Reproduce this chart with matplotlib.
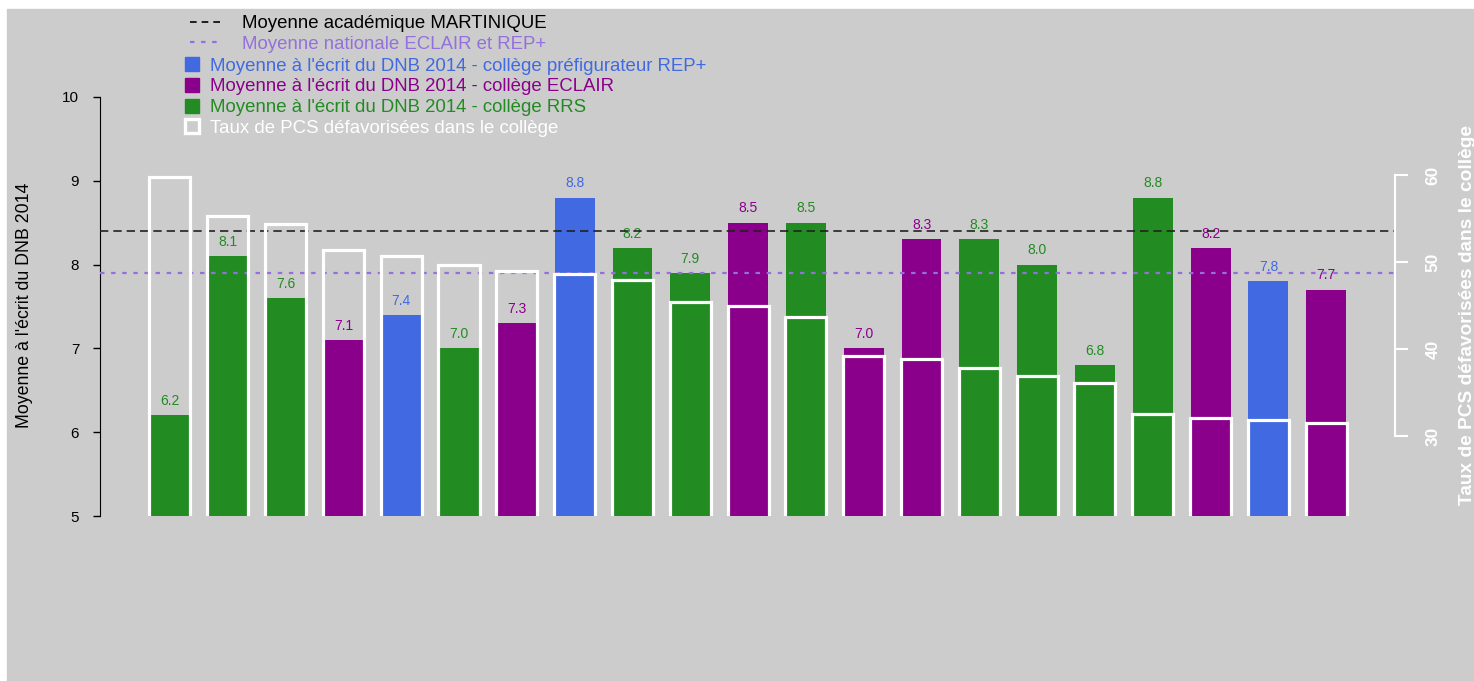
import matplotlib.pyplot as plt
from matplotlib.lines import Line2D
from matplotlib.patches import Rectangle

plt.rcParams['font.family'] = ['Liberation Sans', 'DejaVu Sans']

# Moyenne a l'ecrit du DNB 2014 par college (ordre du graphique)
moyennes = [6.2, 8.1, 7.6, 7.1, 7.4, 7.0, 7.3, 8.8, 8.2, 7.9, 8.5,
            8.5, 7.0, 8.3, 8.3, 8.0, 6.8, 8.8, 8.2, 7.8, 7.7]
types = ['RRS', 'RRS', 'RRS', 'ECLAIR', 'REP+', 'RRS', 'ECLAIR', 'REP+', 'RRS', 'RRS', 'ECLAIR',
         'RRS', 'ECLAIR', 'ECLAIR', 'RRS', 'RRS', 'RRS', 'RRS', 'ECLAIR', 'REP+', 'ECLAIR']
# taux de PCS defavorisees (%)
pcs = [59.8, 55.3, 54.4, 51.4, 50.7, 49.7, 49.0, 48.6, 47.9, 45.4, 44.9,
       43.7, 39.2, 38.8, 37.8, 36.9, 36.1, 32.5, 32.1, 31.8, 31.5]
moy_acad = 8.4
moy_nat = 7.9

couleurs = {'REP+': 'royalblue', 'ECLAIR': 'darkmagenta', 'RRS': 'forestgreen'}
cols = [couleurs[t] for t in types]
x = list(range(len(moyennes)))

W, H = 1474, 681
fig = plt.figure(figsize=(W / 100, H / 100), dpi=100)
fig.patch.set_facecolor('white')
fig.patches.append(Rectangle((7 / W, 0), 1, (H - 9) / H, transform=fig.transFigure,
                             color='#cccccc', zorder=-10))

ax = fig.add_axes([100 / W, (H - 516) / H, 1295 / W, 419 / H])
ax.set_facecolor('none')
ax.bar(x, moyennes, width=0.69, color=cols, zorder=2)
for i, m in enumerate(moyennes):
    ax.text(i, m + 0.17, f'{m:.1f}', ha='center', va='center', color=cols[i], fontsize=10)
ax.axhline(moy_acad, color='#222222', ls=(0, (5, 3)), lw=1.2, zorder=3)
ax.axhline(moy_nat, color='mediumpurple', ls=(0, (2, 3)), lw=1.6, zorder=3)
ax.set_xlim(-1.21, 21.19)
ax.set_ylim(5, 10)
ax.set_xticks([])
ax.set_yticks(range(5, 11))
ax.tick_params(axis='y', length=5, width=1, pad=10, labelsize=11)
for s in ['top', 'right', 'bottom']:
    ax.spines[s].set_visible(False)

ax2 = ax.twinx()
ax2.set_facecolor('none')
ax2.bar(x, pcs, width=0.71, facecolor='none', edgecolor='white', lw=2.3)
ax2.set_ylim(20.805, 68.966)
ax2.set_yticks([30, 40, 50, 60])
ax2.tick_params(axis='y', colors='white', length=9, width=1.5, pad=13, labelsize=12.5)
for lbl in ax2.get_yticklabels():
    lbl.set_rotation(90)
    lbl.set_fontweight('bold')
    lbl.set_va('center')
for s in ['top', 'left', 'bottom']:
    ax2.spines[s].set_visible(False)
ax2.spines['right'].set_color('white')
ax2.spines['right'].set_linewidth(1.5)
ax2.spines['right'].set_bounds(30, 60)

fig.text(25 / W, (H - 305) / H, "Moyenne à l'écrit du DNB 2014", rotation=90,
         ha='center', va='center', fontsize=12.8)
fig.text(1467 / W, (H - 315) / H, 'Taux de PCS défavorisées dans le collège', rotation=90,
         ha='center', va='center', fontsize=13.8, fontweight='bold', color='white')

# legende : deux blocs (lignes de reference, puis carres)
h_lignes = [
    Line2D([], [], color='black', ls=(0, (4, 3)), lw=1.2),
    Line2D([], [], color='mediumpurple', ls=(0, (2, 3)), lw=1.6),
]
l_lignes = ['Moyenne académique MARTINIQUE', 'Moyenne nationale ECLAIR et REP+']
h_carres = [
    Line2D([], [], marker='s', ls='none', color='royalblue', markersize=9.5),
    Line2D([], [], marker='s', ls='none', color='darkmagenta', markersize=9.5),
    Line2D([], [], marker='s', ls='none', color='forestgreen', markersize=9.5),
    Line2D([], [], marker='s', ls='none', markerfacecolor='none', markeredgecolor='white',
           markeredgewidth=2.4, markersize=9.5),
]
l_carres = ["Moyenne à l'écrit du DNB 2014 - collège préfigurateur REP+",
            "Moyenne à l'écrit du DNB 2014 - collège ECLAIR",
            "Moyenne à l'écrit du DNB 2014 - collège RRS",
            'Taux de PCS défavorisées dans le collège']
fig.legend(h_lignes, l_lignes, loc='upper left', bbox_to_anchor=(190 / W, 1 - 15 / H),
           frameon=False, fontsize=13.4, handlelength=1.78, handletextpad=1.0,
           labelspacing=0.2, borderpad=0, borderaxespad=0,
           labelcolor=['black', 'mediumpurple'])
fig.legend(h_carres, l_carres, loc='upper left', bbox_to_anchor=(185 / W, 1 - 57.5 / H),
           frameon=False, fontsize=13.4, handlelength=0.7, handletextpad=0.62,
           labelspacing=0.2, borderpad=0, borderaxespad=0,
           labelcolor=['royalblue', 'darkmagenta', 'forestgreen', 'white'])

fig.savefig('out.png', dpi=100, facecolor=fig.get_facecolor())
